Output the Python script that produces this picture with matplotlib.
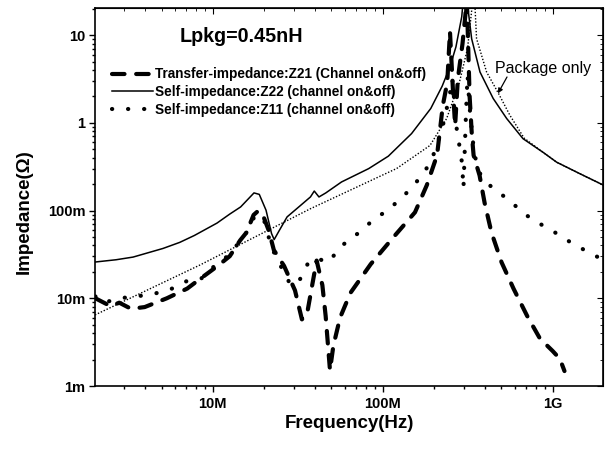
import matplotlib
matplotlib.use("Agg")
import matplotlib.pyplot as plt
from matplotlib.lines import Line2D
from matplotlib.ticker import FixedLocator, LogLocator, NullFormatter

plt.rcParams['font.family'] = ['Liberation Sans', 'DejaVu Sans']

# ---- data (frequency in MHz, impedance in Ohm) ----
z22_f = [2.03, 2.7, 3.4, 5.1, 6.4, 7.8, 10.6, 12.6, 14.6, 17.5, 18.8, 20.6, 22.2, 23.0,
         24.7, 27.4, 32.1, 37.6, 39.6, 42.2, 46.3, 57.3, 82.8, 108, 148, 192, 224, 249,
         270, 292, 305, 318, 334, 374, 447, 537, 670, 881, 1057, 1449, 1991]
z22_z = [0.0259, 0.0275, 0.0295, 0.037, 0.0434, 0.052, 0.072, 0.0912, 0.110, 0.159, 0.153,
         0.101, 0.0547, 0.0467, 0.0597, 0.0847, 0.110, 0.143, 0.167, 0.143, 0.159, 0.212,
         0.301, 0.417, 0.755, 1.46, 2.62, 4.36, 7.36, 16.2, 40, 20, 9.1, 3.8, 1.9, 1.12,
         0.66, 0.46, 0.356, 0.263, 0.195]

pkg_f = [2.03, 8.43, 22.4, 37.6, 56.2, 121, 190, 238, 282, 316, 335, 344, 350, 357, 409,
         479, 561, 680, 881, 1057, 1449, 1991]
pkg_z = [0.00646, 0.024, 0.063, 0.105, 0.151, 0.302, 0.553, 1.12, 2.82, 7.08, 20, 40, 20,
         9.12, 3.8, 2.19, 1.22, 0.67, 0.46, 0.356, 0.263, 0.195]

z21_f = [2.04, 2.51, 2.82, 3.31, 3.98, 5.37, 7.08, 8.13, 10.7, 12.6, 14.5, 15.8, 17.4, 18.6,
         20.0, 21.4, 22.9, 26.3, 30.5, 33.5, 35.9, 38.5, 40.9, 44.2, 46.2, 49.0, 51.3, 56.2,
         64.6, 85.1, 115, 155, 182, 209, 226, 240, 249, 259, 267, 277, 295, 313, 325, 335,
         343, 372, 398, 437, 501, 589, 708, 843, 1000, 1104, 1175]
z21_z = [0.0100, 0.00813, 0.00891, 0.00759, 0.00794, 0.0100, 0.0129, 0.0158, 0.0234, 0.0302,
         0.0457, 0.0562, 0.0891, 0.100, 0.0832, 0.0589, 0.0355, 0.0234, 0.0123, 0.00575,
         0.00661, 0.0141, 0.0269, 0.0141, 0.0063, 0.00151, 0.00288, 0.00603, 0.0115, 0.0245,
         0.0490, 0.0955, 0.195, 0.427, 1.58, 2.88, 11.0, 2.45, 0.933, 3.16, 7.94, 25, 2.0,
         0.724, 0.427, 0.251, 0.123, 0.0562, 0.0257, 0.0129, 0.00631, 0.00347, 0.00251,
         0.00204, 0.00148]

z11_f = [2.04, 2.29, 2.82, 3.55, 4.47, 5.62, 7.08, 8.51, 10.0, 12.6, 15.8, 17.8, 20.0, 22.2,
         25.4, 28.8, 32.7, 36.6, 41.7, 47.9, 57.5, 71.6, 87.7, 110, 137, 168, 192, 207, 224,
         237, 249, 257, 274, 285, 293, 299, 309, 316, 324, 339, 355, 374, 428, 538, 706, 877,
         1062, 1230, 1489, 1730, 1991]
z11_z = [0.0105, 0.0089, 0.0100, 0.0105, 0.0112, 0.0126, 0.0158, 0.0166, 0.0224, 0.0316,
         0.0562, 0.0891, 0.0794, 0.038, 0.0224, 0.0141, 0.0166, 0.0257, 0.0282, 0.0257, 0.0398,
         0.055, 0.0776, 0.105, 0.156, 0.242, 0.359, 0.532, 0.861, 1.39, 2.16, 3.2, 0.78, 0.51,
         0.35, 0.18, 1.2, 3.5, 1.6, 0.63, 0.355, 0.265, 0.193, 0.137, 0.0877, 0.0675, 0.0546,
         0.0454, 0.0368, 0.0314, 0.0275]

yticks = [1e-3, 1e-2, 1e-1, 1, 10]
ytick_labels = ['1m', '10m', '100m', '1', '10']
xticks = [1e7, 1e8, 1e9]
xtick_labels = ['10M', '100M', '1G']

legend_labels = ['Transfer-impedance:Z21 (Channel on&off)',
                 'Self-impedance:Z22 (channel on&off)',
                 'Self-impedance:Z11 (channel on&off)']

W, H = 610, 450
fig = plt.figure(figsize=(W / 100, H / 100), dpi=100)
ax = fig.add_axes([95 / W, 1 - 386 / H, 508 / W, 378 / H])

def hz(lst):
    return [v * 1e6 for v in lst]

dash_style = dict(color='black', lw=3.0, linestyle=(0, (3.0, 2.8)), dash_capstyle='round')
dot_style = dict(color='black', lw=3.0, linestyle=(0, (0.05, 3.8)), dash_capstyle='round')
solid_style = dict(color='black', lw=1.1, linestyle='-')
pkg_style = dict(color='black', lw=1.0, linestyle=(0, (1.0, 1.3)))

ax.plot(hz(pkg_f), pkg_z, **pkg_style)
ax.plot(hz(z22_f), z22_z, **solid_style)
ax.plot(hz(z11_f), z11_z, **dot_style)
ax.plot(hz(z21_f), z21_z, **dash_style)

ax.set_xscale('log')
ax.set_yscale('log')
ax.set_xlim(2.03e6, 1.98e9)
ax.set_ylim(1e-3, 20.4)

ax.tick_params(which='both', direction='out', top=False, right=False, width=1.0,
               labelsize=10.5)
ax.tick_params(which='major', length=4)
ax.tick_params(axis='x', which='major', pad=4)
ax.tick_params(axis='y', which='major', pad=3)
ax.tick_params(which='minor', length=2.5)

ax.yaxis.set_major_locator(FixedLocator(yticks))
ax.set_yticklabels(ytick_labels, fontsize=10.5, fontweight='bold')
ax.xaxis.set_major_locator(FixedLocator(xticks))
ax.set_xticklabels(xtick_labels, fontsize=10.5, fontweight='bold')
ax.xaxis.set_minor_locator(LogLocator(base=10, subs=range(2, 10), numticks=20))
ax.yaxis.set_minor_locator(LogLocator(base=10, subs=range(2, 10), numticks=20))
ax.xaxis.set_minor_formatter(NullFormatter())
ax.yaxis.set_minor_formatter(NullFormatter())

sec_x = ax.secondary_xaxis('top')
sec_x.xaxis.set_major_locator(FixedLocator(xticks))
sec_x.xaxis.set_minor_locator(LogLocator(base=10, subs=range(2, 10), numticks=20))
sec_x.tick_params(which='both', direction='in', labeltop=False)
sec_x.tick_params(which='major', length=4)
sec_x.tick_params(which='minor', length=2.5)
sec_y = ax.secondary_yaxis('right')
sec_y.yaxis.set_major_locator(FixedLocator(yticks))
sec_y.yaxis.set_minor_locator(LogLocator(base=10, subs=range(2, 10), numticks=20))
sec_y.tick_params(which='both', direction='in', labelright=False)
sec_y.tick_params(which='major', length=4)
sec_y.tick_params(which='minor', length=2.5)

for sp in ax.spines.values():
    sp.set_linewidth(1.2)

ax.set_xlabel('Frequency(Hz)', fontsize=13.5, fontweight='bold')
ax.xaxis.set_label_coords(0.5, -0.078)
ax.set_ylabel('Impedance(\u03a9)', fontsize=13.5, fontweight='bold')
ax.yaxis.set_label_coords(-0.122, 0.46)

ax.text(0.167, 0.925, 'Lpkg=0.45nH', transform=ax.transAxes, fontsize=14.2,
        fontweight='bold', ha='left', va='center')

handles = [Line2D([], [], **dash_style), Line2D([], [], **solid_style),
           Line2D([], [], **dot_style)]
leg = ax.legend(handles, legend_labels, loc='upper left', bbox_to_anchor=(0.034, 0.843),
                frameon=False, fontsize=9.8, handlelength=3.0, handletextpad=0.15,
                labelspacing=0.28, borderaxespad=0, borderpad=0)
for t in leg.get_texts():
    t.set_fontweight('bold')

ax.text(495, H - 68, 'Package only', transform=None, fontsize=11.5,
        ha='left', va='center')
ax.annotate('', xy=(477e6, 2.17), xycoords='data',
            xytext=(507, H - 77), textcoords='figure pixels',
            arrowprops=dict(arrowstyle='-|>', color='black', lw=0.9,
                            mutation_scale=7, shrinkA=0, shrinkB=0))

fig.savefig('out.png', dpi=100)
